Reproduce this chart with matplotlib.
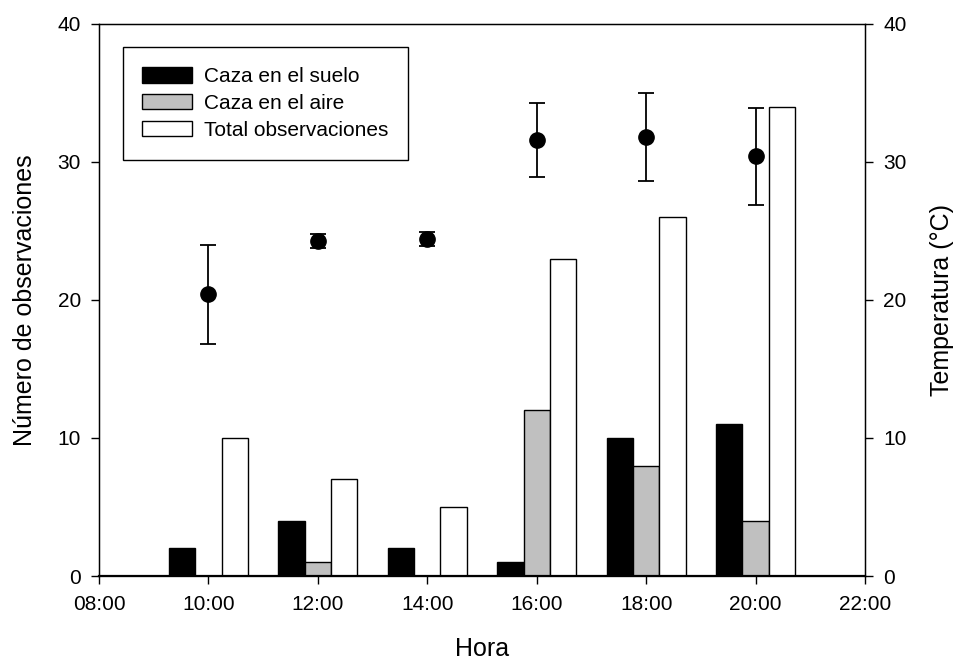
import matplotlib
matplotlib.use("Agg")
import matplotlib.pyplot as plt
from matplotlib.patches import Patch

plt.rcParams['font.family'] = ['Liberation Sans', 'DejaVu Sans']
plt.rcParams['font.size'] = 15

# Hour of day (numeric) and hunting observations per time slot
hours = [10, 12, 14, 16, 18, 20]
caza_suelo = [2, 4, 2, 1, 10, 11]
caza_aire = [0, 1, 0, 12, 8, 4]
total_obs = [10, 7, 5, 23, 26, 34]

# Mean temperature (ºC) with lower / upper error limits
temp_media = [20.4, 24.3, 24.4, 31.6, 31.8, 30.4]
temp_inf = [16.8, 23.8, 23.9, 28.9, 28.6, 26.9]
temp_sup = [24.0, 24.8, 24.9, 34.3, 35.0, 33.9]

xticks = [8, 10, 12, 14, 16, 18, 20, 22]
xtick_labels = ['08:00', '10:00', '12:00', '14:00', '16:00', '18:00', '20:00', '22:00']
yticks = [0, 10, 20, 30, 40]

fig = plt.figure(figsize=(9.56, 6.61), dpi=100)
W, H = 956, 661
ax = fig.add_axes([99 / W, 1 - 576 / H, (865 - 99) / W, (576 - 24) / H])

bw = 0.48
ax.bar([h - bw for h in hours], caza_suelo, width=bw, color='black',
       edgecolor='black', linewidth=1, zorder=2)
ax.bar(hours, caza_aire, width=bw, color='#c0c0c0',
       edgecolor='black', linewidth=1, zorder=2)
ax.bar([h + bw for h in hours], total_obs, width=bw, color='white',
       edgecolor='black', linewidth=1, zorder=2)

ax.set_xlim(8, 22)
ax.set_ylim(0, 40)
ax.set_xticks(xticks)
ax.set_xticklabels(xtick_labels)
ax.set_yticks(yticks)
ax.tick_params(axis='both', direction='out', length=6, width=1)
ax.tick_params(axis='x', pad=8)
ax.tick_params(axis='y', pad=7)
for s in ['left', 'top', 'right']:
    ax.spines[s].set_linewidth(1)
ax.spines['bottom'].set_linewidth(1.6)

ax.set_xlabel('Hora', fontsize=18, labelpad=16)
ax.set_ylabel('Número de observaciones', fontsize=18, labelpad=15)

ax2 = ax.twinx()
ax2.set_ylim(0, 40)
ax2.set_yticks(yticks)
ax2.tick_params(axis='y', direction='out', length=6, width=1, pad=7)
yerr = [[m - lo for m, lo in zip(temp_media, temp_inf)],
        [hi - m for m, hi in zip(temp_media, temp_sup)]]
ax2.errorbar(hours, temp_media, yerr=yerr, fmt='o', color='black',
             markersize=11, elinewidth=1.3, capsize=6, capthick=1.3, zorder=3)
ax2.set_ylabel('Temperatura (°C)', fontsize=18, labelpad=17)

handles = [Patch(facecolor='black', edgecolor='black', linewidth=1),
           Patch(facecolor='#c0c0c0', edgecolor='black', linewidth=1),
           Patch(facecolor='white', edgecolor='black', linewidth=1)]
labels = ['Caza en el suelo', 'Caza en el aire', 'Total observaciones']
leg = ax2.legend(handles, labels, loc='upper left', fontsize=15,
                 bbox_to_anchor=(122.7 / W, 1 - 47.3 / H), bbox_transform=fig.transFigure,
                 frameon=True, fancybox=False, framealpha=1, edgecolor='black',
                 handlelength=2.4, handleheight=0.76, handletextpad=0.55,
                 labelspacing=0.38, borderpad=0.95, borderaxespad=0)
leg.get_frame().set_linewidth(1)

fig.savefig('out.png', dpi=100)
